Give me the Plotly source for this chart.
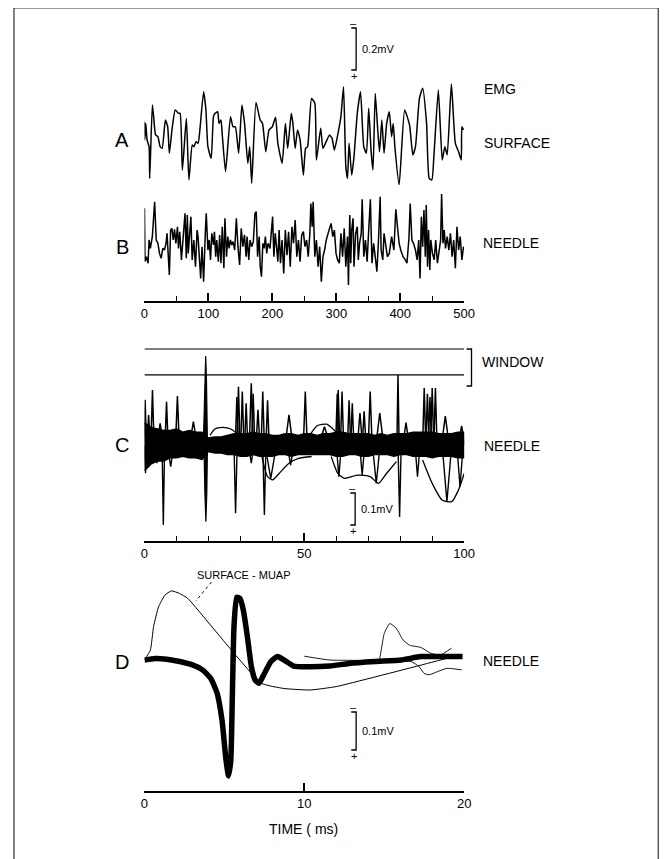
import plotly.graph_objects as go

W, H = 672, 859
FONT = "Liberation Sans, Arial, sans-serif"

# ---------------- data (time in ms, amplitude in mV) ----------------
# Panel A: surface EMG
a_t = [0, 0.5, 2.0, 4.1, 7.2, 8.2, 12.3, 14.3, 17.4, 21.0, 24.5, 27.6, 32.7, 36.3, 38.9, 43.0, 48.1, 53.2, 55.7, 59.3,
       65.5, 69.5, 74.7, 77.2, 80.8, 83.9, 86.4, 92.5, 96.1, 99.2, 104.3, 107.9, 110.4, 114.5, 116.6, 119.6, 121.7, 126.8, 134.5, 138.5,
       142.1, 147.3, 152.4, 156.5, 161.6, 164.6, 167.7, 174.4, 181.0, 184.6, 189.7, 194.8, 199.9, 205.0, 208.6, 215.3, 220.4, 224.0, 229.6, 232.1,
       235.7, 239.3, 243.4, 248.5,
       252.0, 255.1, 261.2, 266.4, 268.9, 275.6, 279.1, 284.2, 289.4, 293.4, 297.0, 303.2, 307.2, 311.3, 314.9, 317.5, 320.0, 324.1, 327.7, 332.8,
       337.9, 343.0, 347.1, 350.7, 354.3, 357.4, 360.9, 364.5, 367.6, 371.2, 374.7, 378.8, 382.9, 386.5, 389.0, 391.6, 398.3, 406.9, 414.6, 419.7,
       423.8, 430.0, 435.1, 441.2, 445.3, 449.4, 452.9, 459.6, 465.7, 469.8, 473.4, 480.0, 486.2, 491.3, 495.4, 496.4, 499.0]
a_v = [0.087, 0.0, 0.079, 0.0, -0.032, -0.183, 0.167, 0.111, 0.024, 0.016, -0.032, -0.040, 0.095, 0.063, -0.063, 0.048, 0.143, 0.127, 0.127, -0.143,
       0.103, -0.190, -0.024, -0.032, -0.008, -0.016, 0.040, 0.230, 0.143, -0.032, -0.087, 0.111, 0.127, 0.135, 0.079, 0.095, 0.024, -0.151, 0.111, 0.063,
       0.063, -0.063, 0.167, 0.079, -0.111, -0.032, -0.206, 0.178, 0.095, 0.079, -0.056, 0.048, 0.063, 0.108, -0.016, -0.111, 0.079, -0.040, 0.127, 0.079,
       -0.040, 0.048, 0.0, -0.167,
       -0.040, -0.032, 0.198, 0.175, -0.095, 0.056, -0.040, -0.008, 0.024, 0.008, -0.048, 0.040, 0.111, 0.254, -0.127, -0.183, -0.016, -0.167, -0.079, 0.127,
       0.230, -0.032, -0.063, 0.151, -0.048, -0.143, 0.222, 0.063, -0.056, 0.095, -0.063, 0.079, 0.135, 0.016, 0.079, -0.032, -0.214, 0.143, 0.071, -0.071,
       -0.032, 0.198, 0.246, 0.079, -0.183, -0.190, -0.063, 0.238, -0.095, -0.032, -0.071, 0.267, -0.016, -0.056, -0.095, 0.063, 0.048]

# Panel B: needle EMG
b_t = [0, 0.3, 0.8, 3.1, 5.6, 7.2, 9.2, 12.3, 15.9, 18.4, 21.0, 23.5, 26.1, 28.6, 31.2, 33.7, 35.3, 37.3, 38.9, 40.9,
       42.9, 45.0, 47.0, 49.1, 51.6, 53.2, 55.2, 57.8, 60.3, 63.4, 65.4, 67.0, 68.5, 70.5, 72.6, 74.6, 77.2, 79.8, 82.3, 83.8,
       85.9, 87.9, 90.0, 92.5, 95.1, 96.6, 99.2, 101.2, 103.3, 105.3, 107.9, 109.4, 111.4, 113.0, 115.5, 117.6, 119.6, 121.7, 124.2, 125.8,
       128.3, 130.4, 132.4, 134.4, 136.5, 138.5, 141.1, 143.7, 146.2, 148.8, 151.3, 153.9, 156.4, 159.0, 160.5, 163.1, 165.1, 167.7, 170.2, 172.8,
       174.8, 176.9, 179.4, 181.0, 183.0, 185.1, 187.1, 189.1, 191.2, 193.2, 196.3, 198.3, 200.4, 202.4, 204.5, 206.5, 208.6, 210.6, 212.7, 215.2,
       217.8, 220.3, 222.9, 225.4, 228.0, 230.6, 233.1, 235.7, 238.2, 240.8, 243.3, 245.9,
       248.5, 251.0, 253.6, 256.1, 258.7, 260.2, 262.3, 263.8, 266.4, 268.9, 271.5, 274.0, 276.6, 279.1, 281.7, 284.3, 286.8, 289.4, 291.9, 294.5,
       297.0, 299.6, 302.1, 304.7, 307.3, 309.8, 312.4, 314.9, 317.5, 319.0, 321.1, 322.6, 324.1, 326.2, 327.7, 330.3, 332.8, 334.4, 336.4, 339.0,
       340.5, 343.0, 345.6, 348.2, 350.7, 353.3, 355.8, 358.4, 360.9, 363.5, 366.0, 368.6, 370.1, 372.7, 374.7, 377.3, 379.9, 382.9, 386.5, 390.1,
       393.1, 395.7, 398.3, 400.8, 404.4, 408.0, 410.5, 413.6, 415.6, 418.2, 420.7, 423.8, 426.4, 428.9, 431.0, 433.0, 435.1, 437.1, 439.2, 440.7,
       442.7, 444.3, 446.3, 447.8, 450.4, 453.0, 455.5, 458.1, 460.6, 463.2, 464.7, 466.8, 468.8, 470.8, 473.4, 476.0, 478.5, 481.1, 483.6, 486.2,
       488.7, 491.3, 493.8, 496.4, 499.0]
b_v = [0.175, -0.071, -0.079, -0.056, -0.087, 0.024, -0.016, 0.040, 0.206, 0.024, 0.008, -0.040, -0.063, -0.016, -0.024, 0.008, 0.056, -0.056, -0.143, 0.071,
       0.079, 0.024, 0.075, 0.008, 0.087, -0.016, 0.063, -0.071, 0.024, 0.151, -0.063, 0.143, -0.040, 0.071, 0.135, -0.071, 0.024, -0.103, 0.071, 0.040,
       -0.056, -0.159, -0.008, -0.175, 0.056, 0.151, -0.024, 0.024, -0.071, 0.056, 0.0, 0.063, -0.056, 0.024, -0.079, 0.048, -0.087, 0.087, -0.111, 0.127,
       -0.056, 0.040, -0.016, 0.024, 0.0, 0.016, -0.024, 0.127, -0.008, -0.095, 0.079, -0.008, 0.048, -0.056, 0.040, -0.071, 0.024, -0.008, 0.016, 0.151,
       0.159, -0.056, 0.040, -0.103, -0.151, 0.008, -0.016, 0.040, -0.040, 0.008, -0.016, 0.056, 0.135, -0.056, 0.056, -0.008, -0.079, 0.071, -0.087, 0.024,
       -0.135, 0.071, -0.048, 0.063, -0.103, 0.087, 0.008, 0.119, -0.056, 0.024, -0.079, 0.048,
       0.064, -0.008, 0.024, -0.056, 0.056, 0.198, 0.087, 0.206, -0.056, 0.024, -0.103, -0.008, -0.175, -0.056, -0.024, 0.024, 0.056, 0.079, 0.103, 0.040,
       0.071, -0.040, -0.071, -0.087, 0.056, -0.056, 0.079, -0.103, 0.040, -0.190, 0.143, -0.087, 0.071, 0.127, -0.103, 0.056, 0.087, -0.071, 0.008, 0.056,
       0.218, -0.056, 0.024, -0.079, 0.071, 0.218, -0.087, 0.008, -0.056, -0.127, 0.024, 0.230, -0.024, -0.071, 0.056, 0.008, -0.056, -0.040, 0.040, -0.024,
       0.170, 0.087, 0.008, -0.024, -0.056, -0.071, -0.087, 0.032, 0.198, 0.024, 0.008, -0.024, -0.071, 0.024, -0.159, 0.135, -0.008, 0.167, -0.056, 0.190,
       -0.103, 0.071, -0.119, 0.024, -0.040, -0.071, 0.024, -0.087, -0.024, 0.024, 0.243, 0.008, 0.071, -0.016, 0.040, -0.024, 0.056, -0.056, 0.024, -0.111,
       0.087, -0.024, 0.040, -0.071, -0.008]

# Panel C: superimposed needle sweeps
c_band_t = list(range(0, 101, 2))
c_band_hi = [0.07, 0.055, 0.05, 0.045, 0.045, 0.05, 0.04, 0.045, 0.04, 0.04,
             0.022, 0.025, 0.025, 0.03, 0.035, 0.035, 0.035, 0.04, 0.035, 0.035,
             0.03, 0.03, 0.035, 0.035, 0.03, 0.035, 0.035, 0.03, 0.035, 0.035,
             0.04, 0.04, 0.035, 0.035, 0.035, 0.035, 0.03, 0.035, 0.03, 0.035,
             0.035, 0.035, 0.04, 0.04, 0.04, 0.04, 0.035, 0.035, 0.035, 0.04, 0.04]
c_band_lo = [-0.08, -0.06, -0.05, -0.05, -0.04, -0.04, -0.035, -0.04, -0.04, -0.045,
             -0.02, -0.025, -0.025, -0.03, -0.03, -0.035, -0.035, -0.03, -0.035, -0.035,
             -0.035, -0.03, -0.03, -0.035, -0.03, -0.03, -0.03, -0.028, -0.03, -0.03,
             -0.035, -0.035, -0.03, -0.03, -0.035, -0.035, -0.03, -0.03, -0.03, -0.035,
             -0.03, -0.03, -0.035, -0.035, -0.035, -0.04, -0.035, -0.035, -0.035, -0.04, -0.04]
c_up_t = [0.2, 1.3, 2.5, 4.9, 6.9, 10.3, 15.3, 28.9, 29.4, 30.6, 31.8, 33.4, 34.0, 35.5, 37.0, 38.5, 45.2, 50.3, 56.3, 60.3, 60.6, 61.8, 64.0,
          65.0, 67.4, 68.7, 70.6, 73.6, 79.3, 81.8, 87.5, 88.5, 89.3, 90.0, 91.0, 94.1, 99.2]
c_up_v = [0.141, 0.094, 0.172, 0.068, 0.135, 0.153, 0.073, 0.15, 0.182, 0.167, 0.13, 0.193, 0.16, 0.11, 0.167, 0.14, 0.094, 0.167, 0.057, 0.16, 0.172, 0.167, 0.14,
          0.13, 0.10, 0.105, 0.167, 0.10, 0.219, 0.07, 0.178, 0.16, 0.15, 0.178, 0.178, 0.09, 0.06]
c_up_w = [0.4, 0.5, 0.5, 1.0, 0.5, 0.6, 1.2, 0.5, 0.5, 0.5, 0.5, 0.6, 0.5, 0.6, 0.5, 0.5, 1.2, 0.6, 1.8, 0.5, 0.5, 0.5, 0.5,
          0.5, 0.8, 0.6, 0.6, 1.2, 0.35, 1.0, 0.5, 0.5, 0.5, 0.5, 0.5, 1.2, 1.0]
c_dn_t = [0.3, 3.9, 5.9, 8.2, 28.5, 33.4, 37.5, 39.5, 45.7, 60.8, 68.1, 72.5, 79.8, 85.4, 94.6, 98.7]
c_dn_v = [-0.088, -0.057, -0.25, -0.068, -0.213, -0.057, -0.219, -0.104, -0.063, -0.099, -0.094, -0.12, -0.225, -0.099, -0.177, -0.13]
c_dn_w = [0.4, 1.0, 0.4, 1.0, 0.5, 0.8, 0.5, 1.8, 1.0, 0.8, 0.8, 1.2, 0.5, 0.8, 1.5, 1.0]
c_sync_t = [18.4, 18.9, 19.15, 19.4, 19.7, 19.5, 19.2, 18.9, 18.6]
c_sync_v = [0.0, 0.20, 0.278, 0.20, 0.0, -0.15, -0.24, -0.15, 0.0]
c_w1_t = [20.5, 22.0, 24.5, 27.0, 29.0]
c_w1_v = [0.03, 0.05, 0.055, 0.05, 0.035]
c_w2_t = [36.5, 38.5, 40.1, 42.1, 45.2, 48.2, 52.3]
c_w2_v = [-0.026, -0.099, -0.109, -0.089, -0.057, -0.042, -0.036]
c_w3_t = [58.4, 60.5, 62.5, 66.6, 70.6, 73.2, 75.7, 78.8]
c_w3_v = [-0.036, -0.089, -0.104, -0.094, -0.099, -0.12, -0.089, -0.052]
c_w4_t = [87.0, 90.0, 93.1, 96.1, 98.2, 100.0]
c_w4_v = [-0.047, -0.12, -0.172, -0.177, -0.141, -0.089]
c_w5_t = [52.0, 54.0, 57.0, 60.0]
c_w5_v = [0.035, 0.06, 0.065, 0.04]
c_window = [0.300, 0.219]

# Panel D: averaged MUAPs
d_needle_t = [0.0, 0.67, 1.39, 2.2, 3.0, 3.63, 4.14, 4.55, 4.85, 5.1, 5.26, 5.4, 5.5, 5.6, 5.77, 5.97, 6.18, 6.44, 6.69, 6.93,
              7.16, 7.40, 7.91, 8.32, 8.73, 9.34, 10.15, 11.58, 12.8, 14.43, 16.07, 17.29, 18.51, 19.9]
d_needle_v = [0.0, 0.004, 0.002, -0.004, -0.013, -0.026, -0.048, -0.088, -0.158, -0.263, -0.305, -0.263, -0.088, 0.088, 0.165, 0.162, 0.132, 0.061, -0.018, -0.053,
              -0.061, -0.044, -0.004, 0.009, 0.0, -0.016, -0.018, -0.016, -0.009, -0.004, 0.0, 0.009, 0.009, 0.009]
d_muap_t = [0.0, 0.37, 0.57, 0.88, 1.28, 1.69, 2.2, 2.71, 7.3, 8.73, 10.36, 11.99, 17.7, 19.6]
d_muap_v = [0.0, 0.026, 0.088, 0.140, 0.171, 0.182, 0.175, 0.162, -0.061, -0.075, -0.079, -0.070, -0.009, 0.012]
d_thin1_t = [10.0, 11.58, 14.0, 14.6, 15.0, 15.35, 15.76, 16.17, 16.58, 17.29, 17.9, 18.5, 19.2]
d_thin1_v = [0.01, 0.0, -0.002, -0.009, 0.070, 0.096, 0.083, 0.053, 0.039, 0.033, 0.018, 0.013, 0.031]
d_thin2_t = [15.66, 16.68, 17.19, 17.49, 17.80, 18.31, 18.92, 19.84]
d_thin2_v = [-0.004, -0.004, -0.018, -0.035, -0.039, -0.031, -0.022, -0.026]

ab_ticks = [0, 100, 200, 300, 400, 500]
ab_minor = [50, 150, 250, 350, 450]
c_ticks = [0, 50, 100]
c_minor = [10, 20, 30, 40, 60, 70, 80, 90]
d_ticks = [0, 10, 20]

# ---------------- layout helpers (pixel geometry) ----------------
OFF = 8  # page body margin


def fx(x):
    return (x - OFF) / W


def fy(y):
    return 1 - (y - OFF) / H


X0, X1 = 143.5, 470.5
PANELS = {
    'A': dict(ax='', top=15, bottom=200, base=140, scale=210, xr=[0, 500], axis_y=None),
    'B': dict(ax='2', top=185, bottom=300, base=245, scale=210, xr=[0, 500], axis_y=302),
    'C': dict(ax='3', top=330, bottom=540, base=445, scale=320, xr=[0, 100], axis_y=542),
    'D': dict(ax='4', top=565, bottom=790, base=660, scale=380, xr=[0, 20], axis_y=792),
}
TICKS = {'B': (ab_ticks, ab_minor), 'C': (c_ticks, c_minor), 'D': (d_ticks, [])}


def to_data(p, xpx, ypx):
    P = PANELS[p]
    t = (xpx - X0) / (X1 - X0) * (P['xr'][1] - P['xr'][0]) + P['xr'][0]
    v = (P['base'] - ypx) / P['scale']
    return t, v


def ref(p):
    s = PANELS[p]['ax']
    return dict(xaxis='x' + s, yaxis='y' + s)


fig = go.Figure()
layout = {}
for name, P in PANELS.items():
    s = P['ax']
    xa = dict(domain=[fx(X0), fx(X1)], range=P['xr'], showgrid=False, zeroline=False, fixedrange=True)
    if P['axis_y'] is None:
        xa.update(visible=False, anchor='y' + s)
    else:
        major, minor = TICKS[name]
        xa.update(anchor='free', position=fy(P['axis_y']), showline=True, linecolor='black', linewidth=1.5,
                  ticks='inside', ticklen=8, tickwidth=1.5, tickcolor='black',
                  tickmode='array', tickvals=major, ticktext=[str(v) for v in major],
                  tickfont=dict(family=FONT, size=13, color='black'))
        if minor:
            xa['minor'] = dict(tickmode='array', tickvals=minor, ticks='inside', ticklen=5,
                               tickwidth=1.2, tickcolor='black', showgrid=False)
    layout['xaxis' + s] = xa
    layout['yaxis' + s] = dict(domain=[fy(P['bottom']), fy(P['top'])],
                               range=[-(P['bottom'] - P['base']) / P['scale'], (P['base'] - P['top']) / P['scale']],
                               visible=False, anchor='x' + s, fixedrange=True)

BLACK = 'black'


def line(p, x, y, w=1.3, shape='linear', smooth=None):
    ln = dict(color=BLACK, width=w, shape=shape)
    if smooth is not None:
        ln['smoothing'] = smooth
    fig.add_trace(go.Scatter(x=x, y=y, mode='lines', line=ln,
                             hoverinfo='skip', showlegend=False, **ref(p)))


def spikes(ts, vs, ws):
    xs, ys = [], []
    for t, v, w in zip(ts, vs, ws):
        xs += [t - w, t, t + w, None]
        ys += [0, v, 0, None]
    return xs, ys


# A, B
line('A', a_t, a_v, 1.5, 'spline', 0.5)
line('B', b_t, b_v, 1.5)

# C
fig.add_trace(go.Scatter(x=c_band_t + c_band_t[::-1], y=c_band_hi + c_band_lo[::-1], fill='toself',
                         fillcolor=BLACK, mode='lines', line=dict(color=BLACK, width=1.5),
                         hoverinfo='skip', showlegend=False, **ref('C')))
for lv in c_window:
    line('C', [0, 100], [lv, lv], 1.2)
xs, ys = spikes(c_up_t, c_up_v, c_up_w)
line('C', xs, ys, 1.5)
xs, ys = spikes(c_dn_t, c_dn_v, c_dn_w)
line('C', xs, ys, 1.4)
fig.add_trace(go.Scatter(x=c_sync_t, y=c_sync_v, fill='toself', fillcolor=BLACK, mode='lines',
                         line=dict(color=BLACK, width=1.2), hoverinfo='skip', showlegend=False, **ref('C')))
for tt, vv in [(c_w1_t, c_w1_v), (c_w2_t, c_w2_v), (c_w3_t, c_w3_v), (c_w4_t, c_w4_v), (c_w5_t, c_w5_v)]:
    line('C', tt, vv, 1.3, 'spline', 0.6)

# D
line('D', d_muap_t, d_muap_v, 1.0, 'spline', 0.4)
line('D', d_thin1_t, d_thin1_v, 0.9, 'spline', 0.5)
line('D', d_thin2_t, d_thin2_v, 0.9, 'spline', 0.5)
line('D', d_needle_t, d_needle_v, 5.5, 'spline', 0.5)


# scale bars (drawn in each panel's own mV units)
annotations = []


def scale_bar(p, xpx, bottom_px, mv, label):
    t, v0 = to_data(p, xpx, bottom_px)
    tl, _ = to_data(p, xpx - 5, bottom_px)
    line(p, [tl, t, t, tl], [v0 + mv, v0 + mv, v0, v0], 1.3)
    top_px = bottom_px - mv * PANELS[p]['scale']
    annotations.append(dict(x=fx(xpx + 4), y=fy((top_px + bottom_px) / 2), text=label, xanchor='left',
                            yanchor='middle', font=dict(size=11, family=FONT, color=BLACK)))
    annotations.append(dict(x=fx(xpx - 3), y=fy(top_px - 5), text='–', xanchor='center', yanchor='middle',
                            font=dict(size=11, family=FONT, color=BLACK)))
    annotations.append(dict(x=fx(xpx - 2), y=fy(bottom_px + 6), text='+', xanchor='center', yanchor='middle',
                            font=dict(size=11, family=FONT, color=BLACK)))


scale_bar('A', 360, 70, 0.2, '0.2mV')
scale_bar('C', 359, 525, 0.1, '0.1mV')
scale_bar('D', 360, 750, 0.1, '0.1mV')


def label(x, y, text, size=14, anchor='left'):
    annotations.append(dict(x=fx(x), y=fy(y), text=text, xanchor=anchor, yanchor='middle',
                            font=dict(size=size, family=FONT, color='black')))


for L, y in [('A', 140), ('B', 247), ('C', 445), ('D', 662)]:
    label(121, y, L, 20, 'center')
label(489, 89, 'EMG', 14)
label(489, 143, 'SURFACE', 14)
label(488, 243, 'NEEDLE', 14)
label(487, 362, 'WINDOW', 14)
label(489, 446, 'NEEDLE', 14)
label(488, 661, 'NEEDLE', 14)
label(245, 575, 'SURFACE - MUAP', 11, 'center')
label(306, 829, 'TIME ( ms)', 14, 'center')
for a in annotations:
    a.update(xref='paper', yref='paper', showarrow=False)

# window bracket & frame (pixel geometry)
win_top = PANELS['C']['base'] - c_window[0] * PANELS['C']['scale']
shapes = [
    dict(type='path', xref='paper', yref='paper',
         path=f"M {fx(473)} {fy(win_top)} L {fx(478)} {fy(win_top)} L {fx(478)} {fy(386)} L {fx(473)} {fy(386)}",
         line=dict(color=BLACK, width=1.3)),
    dict(type='line', xref='paper', yref='paper', x0=fx(212), y0=fy(582), x1=fx(196), y1=fy(601),
         line=dict(color=BLACK, width=1, dash='dot')),
    dict(type='rect', xref='paper', yref='paper', x0=fx(10), y0=fy(880), x1=fx(669), y1=fy(8),
         line=dict(color='#333333', width=1.2)),
]

fig.update_layout(width=W, height=H, margin=dict(l=0, r=0, t=0, b=0), paper_bgcolor='white',
                  plot_bgcolor='white', showlegend=False, annotations=annotations, shapes=shapes,
                  font=dict(family=FONT, color='black'), **layout)
fig.write_html("out.html")
